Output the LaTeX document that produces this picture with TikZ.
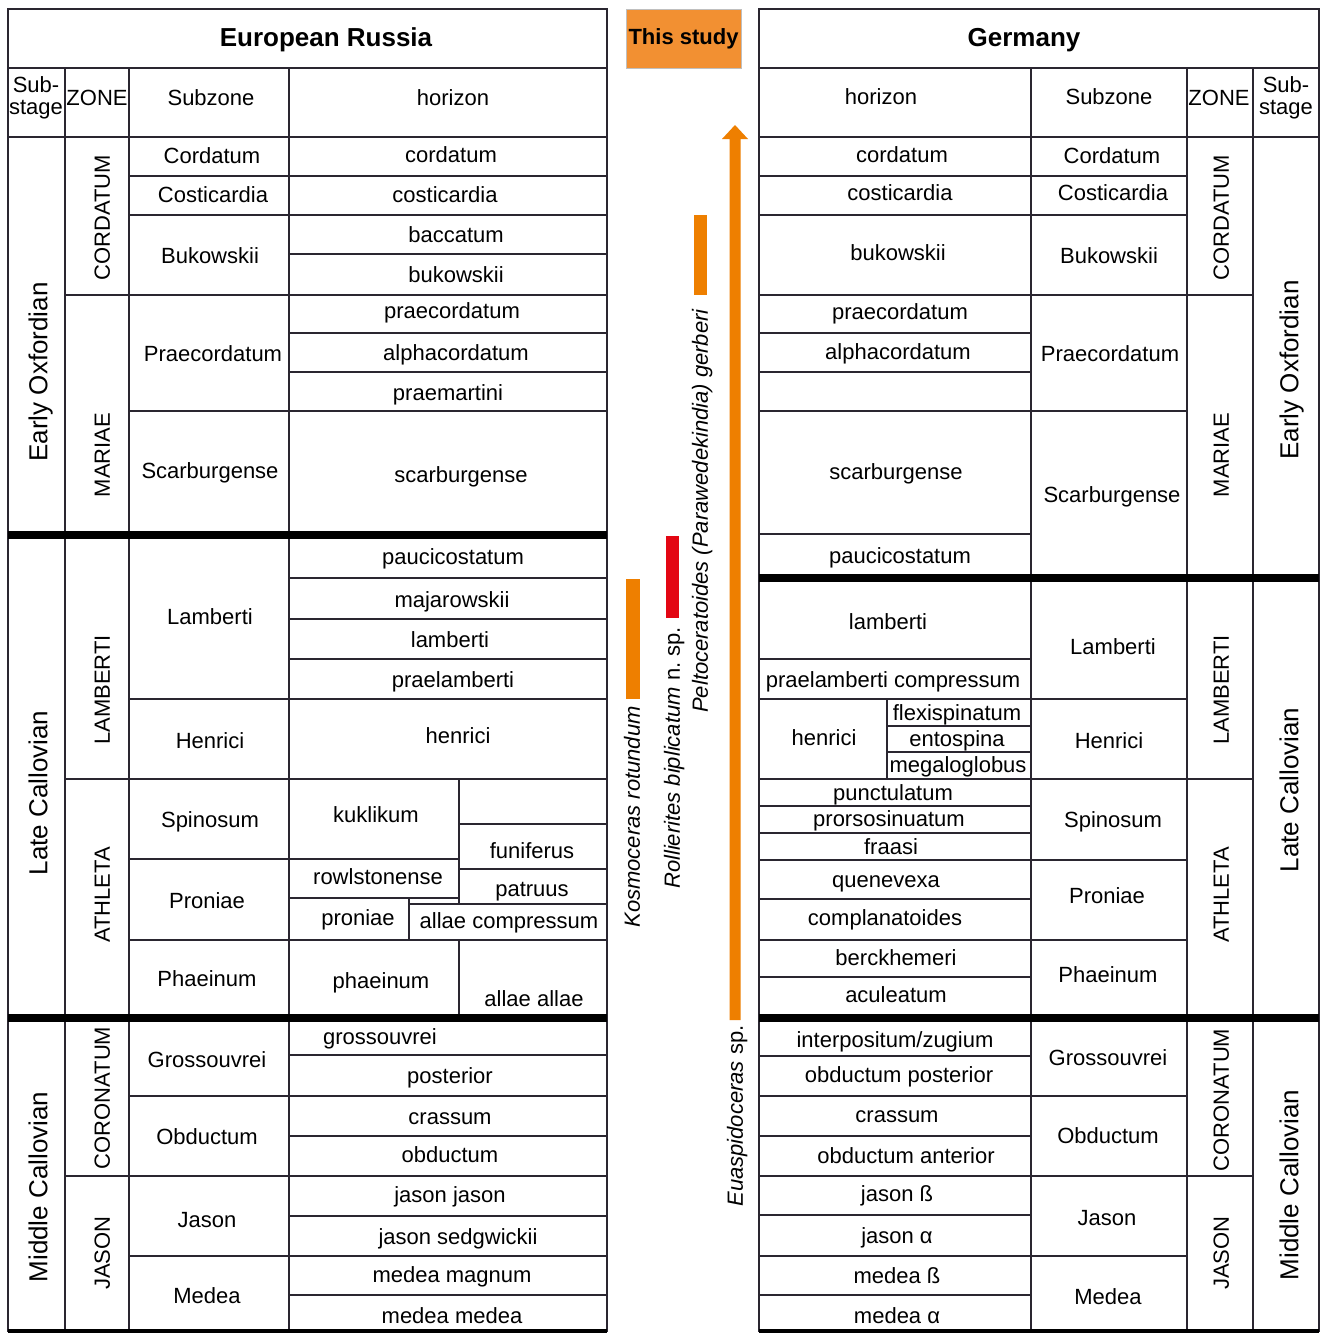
\documentclass[tikz,border=0pt]{standalone}
\usepackage{fontspec}
\setmainfont{Liberation Sans}
\definecolor{orng}{HTML}{EE7F00}
\definecolor{studyfill}{HTML}{F29032}
\definecolor{redbar}{HTML}{E30613}
\definecolor{gridcol}{HTML}{2A2630}
\tikzset{
  grid/.style={draw=gridcol, line width=1.4pt},
  lab/.style={font=\fontsize{22}{23}\selectfont, inner sep=0pt, text height=15.8pt, text depth=0pt},
  labtwo/.style={font=\fontsize{22}{22}\selectfont, inner sep=0pt, align=center},
  ttl/.style={font=\bfseries\fontsize{26}{28}\selectfont, inner sep=0pt, text height=18.7pt, text depth=0pt},
  zonelab/.style={lab, rotate=90},
  stagelab/.style={font=\fontsize{26}{28}\selectfont, rotate=90, inner sep=0pt, text height=18.7pt, text depth=0pt},
  heavyrule/.style={draw=black, line width=8pt},
  taxon/.style={font=\itshape\fontsize{22}{23}\selectfont, rotate=90, inner sep=0pt, text height=15.8pt, text depth=0pt},
}
\newcommand{\gbox}[4]{\draw[grid] (#1,#2) rectangle (#3,#4);}
\begin{document}
\begin{tikzpicture}[x=1pt,y=-1pt]
\useasboundingbox (0,0) rectangle (1326,1333);
\fill[white] (0,0) rectangle (1326,1333);

% ================= LEFT TABLE =================
\gbox{8}{9}{607}{68}
\gbox{8}{68}{65}{137}\gbox{65}{68}{129}{137}\gbox{129}{68}{289}{137}\gbox{289}{68}{607}{137}
% substage
\gbox{8}{137}{65}{535}\gbox{8}{535}{65}{1018}\gbox{8}{1018}{65}{1331}
% zone
\gbox{65}{137}{129}{295}\gbox{65}{295}{129}{535}\gbox{65}{535}{129}{779}
\gbox{65}{779}{129}{1018}\gbox{65}{1018}{129}{1176}\gbox{65}{1176}{129}{1331}
% subzone
\gbox{129}{137}{289}{176}\gbox{129}{176}{289}{215}\gbox{129}{215}{289}{295}
\gbox{129}{295}{289}{411}\gbox{129}{411}{289}{535}\gbox{129}{535}{289}{699}
\gbox{129}{699}{289}{779}\gbox{129}{779}{289}{859}\gbox{129}{859}{289}{940}
\gbox{129}{940}{289}{1018}\gbox{129}{1018}{289}{1096}\gbox{129}{1096}{289}{1176}
\gbox{129}{1176}{289}{1256}\gbox{129}{1256}{289}{1331}
% horizon
\gbox{289}{137}{607}{176}\gbox{289}{176}{607}{215}\gbox{289}{215}{607}{254}
\gbox{289}{254}{607}{295}\gbox{289}{295}{607}{333}\gbox{289}{333}{607}{372}
\gbox{289}{372}{607}{411}\gbox{289}{411}{607}{535}\gbox{289}{535}{607}{578}
\gbox{289}{578}{607}{619}\gbox{289}{619}{607}{659}\gbox{289}{659}{607}{699}
\gbox{289}{699}{607}{779}
\gbox{289}{779}{459}{859}\gbox{459}{779}{607}{824}\gbox{459}{824}{607}{869}
\gbox{289}{859}{459}{898}\gbox{459}{869}{607}{904}
\gbox{289}{898}{409}{940}\gbox{409}{904}{607}{940}
\gbox{289}{940}{459}{1018}\gbox{459}{940}{607}{1018}
\gbox{289}{1018}{607}{1055}\gbox{289}{1055}{607}{1096}\gbox{289}{1096}{607}{1136}
\gbox{289}{1136}{607}{1176}\gbox{289}{1176}{607}{1216}\gbox{289}{1216}{607}{1256}
\gbox{289}{1256}{607}{1295}\gbox{289}{1295}{607}{1331}
% heavy rules
\draw[heavyrule] (8,535) -- (607,535);
\draw[heavyrule] (8,1018) -- (607,1018);
\draw[draw=black, line width=4pt] (8,1331) -- (607,1331);

% left texts
\node[ttl] (lt) at (326,37) {European Russia};
\node[labtwo] (lhs) at (36,98) {Sub-\\stage};
\node[lab] (lhz) at (97,98) {ZONE};
\node[lab] (lhsz) at (211,98) {Subzone};
\node[lab] (lhh) at (453,98) {horizon};

\node[stagelab] (ls1) at (38,372) {Early Oxfordian};
\node[stagelab] (ls2) at (38,793) {Late Callovian};
\node[stagelab] (ls3) at (38,1187) {Middle Callovian};

\node[zonelab] (lz1) at (102,218) {CORDATUM};
\node[zonelab] (lz2) at (102,455) {MARIAE};
\node[zonelab] (lz3) at (102,690) {LAMBERTI};
\node[zonelab] (lz4) at (102,895) {ATHLETA};
\node[zonelab] (lz5) at (102,1098) {CORONATUM};
\node[zonelab] (lz6) at (102,1253) {JASON};

\node[lab] (lsz1) at (212,156) {Cordatum};
\node[lab] (lsz2) at (213,195) {Costicardia};
\node[lab] (lsz3) at (210,256) {Bukowskii};
\node[lab] (lsz4) at (213,354) {Praecordatum};
\node[lab] (lsz5) at (210,471) {Scarburgense};
\node[lab] (lsz6) at (210,617) {Lamberti};
\node[lab] (lsz7) at (210,741) {Henrici};
\node[lab] (lsz8) at (210,820) {Spinosum};
\node[lab] (lsz9) at (207,901) {Proniae};
\node[lab] (lsz10) at (207,979) {Phaeinum};
\node[lab] (lsz11) at (207,1060) {Grossouvrei};
\node[lab] (lsz12) at (207,1137) {Obductum};
\node[lab] (lsz13) at (207,1220) {Jason};
\node[lab] (lsz14) at (207,1296) {Medea};

\node[lab] (lh1) at (451,155) {cordatum};
\node[lab] (lh2) at (445,195) {costicardia};
\node[lab] (lh3) at (456,235) {baccatum};
\node[lab] (lh4) at (456,275) {bukowskii};
\node[lab] (lh5) at (452,311) {praecordatum};
\node[lab] (lh6) at (456,353) {alphacordatum};
\node[lab] (lh7) at (448,393) {praemartini};
\node[lab] (lh8) at (461,475) {scarburgense};
\node[lab] (lh9) at (453,557) {paucicostatum};
\node[lab] (lh10) at (452,600) {majarowskii};
\node[lab] (lh11) at (450,640) {lamberti};
\node[lab] (lh12) at (453,680) {praelamberti};
\node[lab] (lh13) at (458,736) {henrici};
\node[lab] (lh14) at (376,815) {kuklikum};
\node[lab] (lh15) at (532,851) {funiferus};
\node[lab] (lh16) at (378,877) {rowlstonense};
\node[lab] (lh17) at (532,889) {patruus};
\node[lab] (lh18) at (358,918) {proniae};
\node[lab] (lh19) at (509,921) {allae compressum};
\node[lab] (lh20) at (381,981) {phaeinum};
\node[lab] (lh21) at (534,999) {allae allae};
\node[lab] (lh22) at (380,1037) {grossouvrei};
\node[lab] (lh23) at (450,1076) {posterior};
\node[lab] (lh24) at (450,1117) {crassum};
\node[lab] (lh25) at (450,1155) {obductum};
\node[lab] (lh26) at (450,1195) {jason jason};
\node[lab] (lh27) at (458,1237) {jason sedgwickii};
\node[lab] (lh28) at (452,1275) {medea magnum};
\node[lab] (lh29) at (452,1316) {medea medea};

% ================= RIGHT TABLE =================
\gbox{759}{9}{1319}{68}
\gbox{759}{68}{1031}{137}\gbox{1031}{68}{1187}{137}\gbox{1187}{68}{1253}{137}\gbox{1253}{68}{1319}{137}
% horizon
\gbox{759}{137}{1031}{176}\gbox{759}{176}{1031}{215}\gbox{759}{215}{1031}{295}
\gbox{759}{295}{1031}{333}\gbox{759}{333}{1031}{372}\gbox{759}{372}{1031}{411}
\gbox{759}{411}{1031}{534}\gbox{759}{534}{1031}{578}
\gbox{759}{578}{1031}{659}\gbox{759}{659}{1031}{699}
\gbox{759}{699}{887}{779}\gbox{887}{699}{1031}{726}\gbox{887}{726}{1031}{752}\gbox{887}{752}{1031}{779}
\gbox{759}{779}{1031}{806}\gbox{759}{806}{1031}{833}\gbox{759}{833}{1031}{860}
\gbox{759}{860}{1031}{899}\gbox{759}{899}{1031}{940}
\gbox{759}{940}{1031}{977}\gbox{759}{977}{1031}{1018}
\gbox{759}{1018}{1031}{1056}\gbox{759}{1056}{1031}{1096}
\gbox{759}{1096}{1031}{1136}\gbox{759}{1136}{1031}{1176}
\gbox{759}{1176}{1031}{1215}\gbox{759}{1215}{1031}{1256}
\gbox{759}{1256}{1031}{1295}\gbox{759}{1295}{1031}{1331}
% subzone
\gbox{1031}{137}{1187}{176}\gbox{1031}{176}{1187}{215}\gbox{1031}{215}{1187}{295}
\gbox{1031}{295}{1187}{411}\gbox{1031}{411}{1187}{578}\gbox{1031}{578}{1187}{699}
\gbox{1031}{699}{1187}{779}\gbox{1031}{779}{1187}{860}\gbox{1031}{860}{1187}{940}
\gbox{1031}{940}{1187}{1018}\gbox{1031}{1018}{1187}{1096}\gbox{1031}{1096}{1187}{1176}
\gbox{1031}{1176}{1187}{1256}\gbox{1031}{1256}{1187}{1331}
% zone
\gbox{1187}{137}{1253}{295}\gbox{1187}{295}{1253}{578}\gbox{1187}{578}{1253}{779}
\gbox{1187}{779}{1253}{1018}\gbox{1187}{1018}{1253}{1176}\gbox{1187}{1176}{1253}{1331}
% substage
\gbox{1253}{137}{1319}{578}\gbox{1253}{578}{1319}{1018}\gbox{1253}{1018}{1319}{1331}
% heavy rules
\draw[heavyrule] (759,578) -- (1319,578);
\draw[heavyrule] (759,1018) -- (1319,1018);
\draw[draw=black, line width=4pt] (759,1331) -- (1319,1331);

% right texts
\node[ttl] (rt) at (1024,37) {Germany};
\node[lab] (rhh) at (881,97) {horizon};
\node[lab] (rhsz) at (1109,97) {Subzone};
\node[lab] (rhz) at (1219,98) {ZONE};
\node[labtwo] (rhs) at (1286,98) {Sub-\\stage};

\node[lab] (rh1) at (902,155) {cordatum};
\node[lab] (rh2) at (900,193) {costicardia};
\node[lab] (rh3) at (898,253) {bukowskii};
\node[lab] (rh4) at (900,312) {praecordatum};
\node[lab] (rh5) at (898,352) {alphacordatum};
\node[lab] (rh6) at (896,472) {scarburgense};
\node[lab] (rh7) at (900,556) {paucicostatum};
\node[lab] (rh8) at (888,622) {lamberti};
\node[lab] (rh9) at (893,680) {praelamberti compressum};
\node[lab] (rh10) at (824,738) {henrici};
\node[lab] (rh11) at (957,713) {flexispinatum};
\node[lab] (rh12) at (957,739) {entospina};
\node[lab] (rh13) at (958,765) {megaloglobus};
\node[lab] (rh14) at (893,793) {punctulatum};
\node[lab] (rh15) at (889,819) {prorsosinuatum};
\node[lab] (rh16) at (891,847) {fraasi};
\node[lab] (rh17) at (886,880) {quenevexa};
\node[lab] (rh18) at (885,918) {complanatoides};
\node[lab] (rh19) at (896,958) {berckhemeri};
\node[lab] (rh20) at (896,995) {aculeatum};
\node[lab] (rh21) at (895,1040) {interpositum/zugium};
\node[lab] (rh22) at (899,1075) {obductum posterior};
\node[lab] (rh23) at (897,1115) {crassum};
\node[lab] (rh24) at (906,1156) {obductum anterior};
\node[lab] (rh25) at (897,1194) {jason ß};
\node[lab] (rh26) at (897,1236) {jason α};
\node[lab] (rh27) at (897,1276) {medea ß};
\node[lab] (rh28) at (897,1316) {medea α};

\node[lab] (rsz1) at (1112,156) {Cordatum};
\node[lab] (rsz2) at (1113,193) {Costicardia};
\node[lab] (rsz3) at (1109,256) {Bukowskii};
\node[lab] (rsz4) at (1110,354) {Praecordatum};
\node[lab] (rsz5) at (1112,495) {Scarburgense};
\node[lab] (rsz6) at (1113,647) {Lamberti};
\node[lab] (rsz7) at (1109,741) {Henrici};
\node[lab] (rsz8) at (1113,820) {Spinosum};
\node[lab] (rsz9) at (1107,896) {Proniae};
\node[lab] (rsz10) at (1108,975) {Phaeinum};
\node[lab] (rsz11) at (1108,1058) {Grossouvrei};
\node[lab] (rsz12) at (1108,1136) {Obductum};
\node[lab] (rsz13) at (1107,1218) {Jason};
\node[lab] (rsz14) at (1108,1297) {Medea};

\node[zonelab] (rz1) at (1221,218) {CORDATUM};
\node[zonelab] (rz2) at (1221,455) {MARIAE};
\node[zonelab] (rz3) at (1221,690) {LAMBERTI};
\node[zonelab] (rz4) at (1221,895) {ATHLETA};
\node[zonelab] (rz5) at (1221,1100) {CORONATUM};
\node[zonelab] (rz6) at (1221,1253) {JASON};

\node[stagelab] (rs1) at (1289,370) {Early Oxfordian};
\node[stagelab] (rs2) at (1289,790) {Late Callovian};
\node[stagelab] (rs3) at (1289,1185) {Middle Callovian};

% ================= MIDDLE: THIS STUDY =================
\node[draw=black!25, line width=0.8pt, fill=studyfill, minimum width=115pt, minimum height=59pt,
      inner sep=0pt, font=\bfseries\fontsize{22}{23}\selectfont] (study) at (683.5,38.5) {This study};

% range bars
\fill[orng] (694,215) rectangle (707,295);
\fill[redbar] (666,536) rectangle (679,618);
\fill[orng] (626,579) rectangle (640,699);
% long arrow
\fill[orng] (729.5,1020) -- (729.5,139) -- (722,139) -- (735,125) -- (748,139) -- (740.5,139) -- (740.5,1020) -- cycle;

\node[taxon] (kos) at (632,817) {Kosmoceras rotundum};
\node[taxon] (rol) at (672,758) {Rollierites biplicatum \upshape n.~sp.};
\node[taxon] (pel) at (700,511) {Peltoceratoides (Parawedekindia) gerberi};
\node[taxon] (eua) at (735,1116) {Euaspidoceras \upshape sp.};
\end{tikzpicture}
\end{document}
